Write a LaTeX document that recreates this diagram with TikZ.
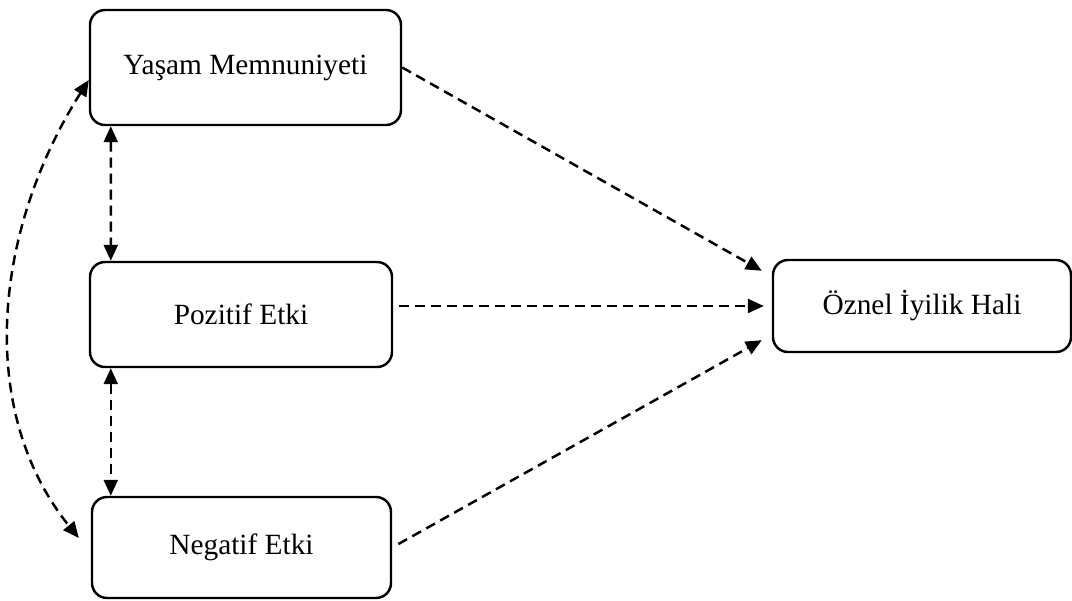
\documentclass[tikz,border=0pt]{standalone}
\usepackage{fontspec}
\setmainfont{Liberation Serif}
\usepackage{tikz}
\usetikzlibrary{arrows.meta}

\begin{document}
\begin{tikzpicture}[
    box/.style={draw=black, line width=1.4pt, rounded corners=0.3cm,
        align=center, font=\fontsize{16.7}{20}\selectfont},
    link/.style={draw=black, line width=1.4pt, dash pattern=on 0.2cm off 0.12cm,
        -{Triangle[length=0.32cm, width=0.28cm]}},
    both/.style={link, {Triangle[length=0.32cm, width=0.28cm]}-{Triangle[length=0.32cm, width=0.28cm]}}
]

%% ---- Rahmen ----
\useasboundingbox (0, 0) rectangle (21.44, 12);

%% ---- Kasten ----
\node[box, minimum width=6.22cm, minimum height=2.30cm] (yasam)
    at (4.91, 10.65) {Yaşam Memnuniyeti};
\node[box, minimum width=6.04cm, minimum height=2.10cm] (pozitif)
    at (4.82, 5.71) {Pozitif Etki};
\node[box, minimum width=5.98cm, minimum height=2.02cm] (negatif)
    at (4.83, 1.05) {Negatif Etki};
\node[box, minimum width=5.96cm, minimum height=1.84cm] (oznel)
    at (18.44, 5.88) {Öznel İyilik Hali};

%% ---- Pfeile nach rechts ----
\draw[link] (yasam.east)
    -- ([shift={(-0.2,-0.24)}]oznel.north west);
\draw[link, shorten <=0.12cm, shorten >=0.16cm]
    (pozitif.east |- oznel.west) -- (oznel.west);
\draw[link, shorten <=0.14cm] (negatif.east)
    -- ([shift={(-0.2,0.26)}]oznel.south west);

%% ---- Korrelationen (links) ----
\draw[both] ([xshift=0.44cm]yasam.south west)
    -- ([xshift=0.44cm]pozitif.north west);
\draw[both] ([xshift=0.44cm]pozitif.south west)
    -- ([xshift=0.44cm]pozitif.south west |- negatif.north);
\draw[both] ([yshift=-0.25cm]yasam.west)
    .. controls +(-1.9,-3.0) and +(-2.06,2.56) ..
    ([shift={(-0.24,0.19)}]negatif.west);

\end{tikzpicture}
\end{document}
